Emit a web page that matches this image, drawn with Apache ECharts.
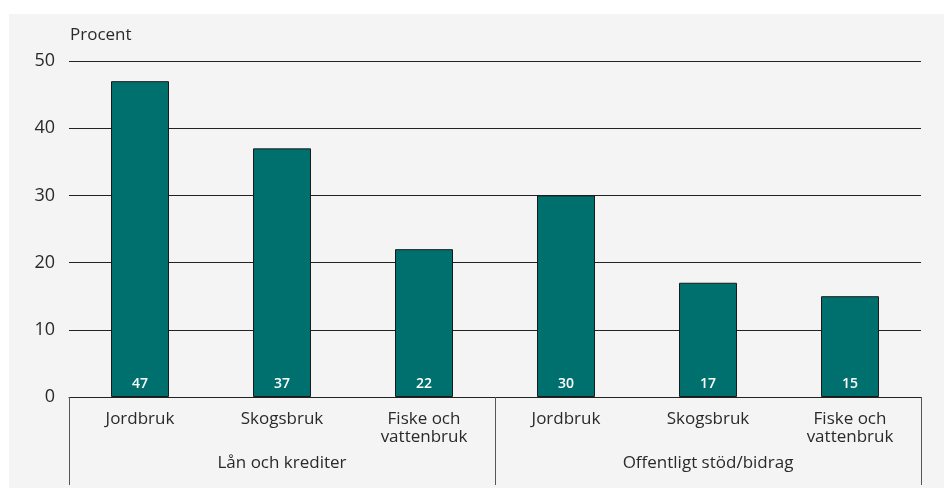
<!DOCTYPE html>
<html>
<head>
<meta charset="utf-8">
<script src="https://cdn.jsdelivr.net/npm/echarts@6/dist/echarts.min.js"></script>
<style>
html,body{margin:0;padding:0;background:#fff;}
#c{width:944px;height:490px;}
</style>
</head>
<body>
<div id="c"></div>
<script>
const categories = ["Jordbruk", "Skogsbruk", "Fiske och\nvattenbruk", "Jordbruk", "Skogsbruk", "Fiske och\nvattenbruk"];
const groups = ["Lån och krediter", "Offentligt stöd/bidrag"];
const values = [47, 37, 22, 30, 17, 15];
const yTicks = [0, 10, 20, 30, 40, 50];

const font = "Open Sans";
const chart = echarts.init(document.getElementById('c'));
chart.setOption({
  backgroundColor: '#ffffff',
  animation: false,
  textStyle: { fontFamily: font },
  graphic: [{
    type: 'rect', silent: true, z: -100,
    shape: { x: 9, y: 14, width: 935, height: 474 },
    style: { fill: '#f4f4f4' }
  }],
  title: {
    text: 'Procent', left: 65, top: 22,
    textStyle: { fontFamily: font, fontSize: 17, fontWeight: 'normal', color: '#2a2a2a' }
  },
  grid: { left: 69, right: 23, top: 61, bottom: 93, containLabel: false },
  xAxis: [{
    type: 'category', data: categories, position: 'bottom',
    axisLine: { show: true, lineStyle: { color: '#222', width: 1 } },
    axisTick: { show: false },
    axisLabel: { fontFamily: font, fontSize: 17, color: '#2a2a2a', margin: 13, lineHeight: 18, interval: 0 }
  }, {
    type: 'category', data: groups, position: 'bottom',
    axisLine: { show: false },
    axisTick: { show: true, length: 88, lineStyle: { color: '#555', width: 1 } },
    axisLabel: { fontFamily: font, fontSize: 17, color: '#2a2a2a', margin: 58, interval: 0 }
  }],
  yAxis: {
    type: 'value', min: yTicks[0], max: yTicks[yTicks.length - 1], interval: 10,
    axisLine: { show: false }, axisTick: { show: false },
    axisLabel: { fontFamily: font, fontSize: 18, color: '#2a2a2a', margin: 14 },
    splitLine: { show: true, lineStyle: { color: '#222', width: 1 } }
  },
  series: [{
    type: 'bar', data: values, xAxisIndex: 0, barWidth: 58,
    itemStyle: { color: '#00706f', borderColor: '#1a1a1a', borderWidth: 1 },
    label: {
      show: true, position: 'insideBottom', distance: 6,
      color: '#fff', fontWeight: 600, fontSize: 14, fontFamily: font
    }
  }]
});
</script>
</body>
</html>
